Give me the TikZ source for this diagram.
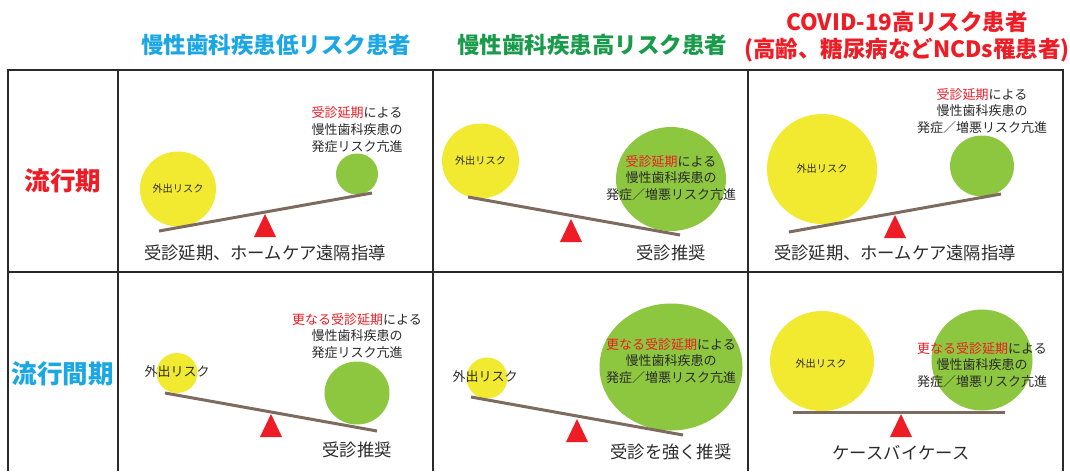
\documentclass[tikz,border=0pt]{standalone}
\usepackage{fontspec}
\newfontfamily\jp{Noto Sans CJK JP}
\usetikzlibrary{shapes.geometric}
\definecolor{rd}{HTML}{EE1C25}
\definecolor{cy}{HTML}{1AA7E4}
\definecolor{gh}{HTML}{1A9B4B}
\definecolor{yel}{HTML}{F2EA30}
\definecolor{grn}{HTML}{8DC63F}
\definecolor{bm}{HTML}{7D6B5F}
\definecolor{tx}{HTML}{2B2B2B}
\definecolor{gl}{HTML}{2A2A2A}
\tikzset{
  gridline/.style={draw=gl, line width=2pt},
  ball/.style={ellipse, inner sep=0pt, draw=none},
  yball/.style={ball, fill=yel},
  gball/.style={ball, fill=grn},
  beam/.style={draw=bm, line width=3pt},
  fulcrum/.style={fill=rd},
  hdr/.style={font=\jp\bfseries\fontsize{22.5}{26}\selectfont, inner sep=0pt},
  rowlab/.style={font=\jp\bfseries\fontsize{25.5}{30}\selectfont, inner sep=0pt},
  risk/.style={font=\jp\fontsize{10.2}{12}\selectfont, text=tx, inner sep=0pt},
  riskbig/.style={font=\jp\fontsize{13}{15}\selectfont, text=tx, inner sep=0pt},
  lab/.style={font=\jp\fontsize{13}{16.7}\selectfont, text=tx, align=center, inner sep=0pt},
  act/.style={font=\jp\fontsize{17.3}{20}\selectfont, text=tx, inner sep=0pt},
}
\begin{document}
\begin{tikzpicture}[x=1pt,y=-1pt]
\useasboundingbox[fill=white] (0,0) rectangle (1070,471);
% grid
\draw[gridline] (8,471) -- (8,70) -- (1063,70) -- (1063,471);
\draw[gridline] (8,272) -- (1063,272);
\foreach \gx in {118,433,748} \draw[gridline] (\gx,70) -- (\gx,471);
% headers
\node[hdr, text=cy] (h1) at (276,45) {慢性歯科疾患低リスク患者};
\node[hdr, text=gh] (h2) at (592,45) {慢性歯科疾患高リスク患者};
\node[hdr, text=rd] (h3a) at (907,22) {COVID-19高リスク患者};
\node[hdr, text=rd] (h3b) at (907,50) {(高齢、糖尿病などNCDs罹患者)};
% row labels
\node[rowlab, text=rd] (r1) at (63,181) {流行期};
\node[rowlab, text=cy] (r2) at (63,374) {流行間期};

% ---- cell 1,1
\node[yball, minimum width=76pt, minimum height=75pt] (y11) at (178,189) {};
\node[risk] (t11) at (y11.center) {外出リスク};
\node[gball, minimum width=42pt, minimum height=41pt] (g11) at (357,174) {};
\node[lab] (l11) at (357,129.5) {{\color{rd}受診延期}による\\慢性歯科疾患の\\発症リスク亢進};
\coordinate (b11a) at (159,231); \coordinate (b11b) at (372,193);
\draw[beam] (b11a) -- (b11b);
\coordinate (f11) at (265,214);
\fill[fulcrum] (f11) -- ++(11,23) -- ++(-22,0) -- cycle;
\node[act] (a11) at (265,253) {受診延期、ホームケア遠隔指導};

% ---- cell 1,2
\node[yball, minimum width=77pt, minimum height=75pt] (y12) at (480.5,161) {};
\node[risk] (t12) at (y12.center) {外出リスク};
\node[gball, minimum width=110pt, minimum height=104pt] (g12) at (671,179) {};
\node[lab] (l12) at (671,178) {{\color{rd}受診延期}による\\慢性歯科疾患の\\発症／増悪リスク亢進};
\coordinate (b12a) at (468,197); \coordinate (b12b) at (680,235);
\draw[beam] (b12a) -- (b12b);
\coordinate (f12) at (571,219);
\fill[fulcrum] (f12) -- ++(11,23) -- ++(-22,0) -- cycle;
\node[act] (a12) at (671,253) {受診推奨};

% ---- cell 1,3
\node[yball, minimum width=110pt, minimum height=110pt] (y13) at (822,169) {};
\node[risk] (t13) at (y13.center) {外出リスク};
\node[gball, minimum width=64pt, minimum height=61pt] (g13) at (982,166) {};
\node[lab] (l13) at (982,111) {{\color{rd}受診延期}による\\慢性歯科疾患の\\発症／増悪リスク亢進};
\coordinate (b13a) at (789,232); \coordinate (b13b) at (1001,194);
\draw[beam] (b13a) -- (b13b);
\coordinate (f13) at (895,215);
\fill[fulcrum] (f13) -- ++(11,23) -- ++(-22,0) -- cycle;
\node[act] (a13) at (895,253) {受診延期、ホームケア遠隔指導};

% ---- cell 2,1
\node[yball, minimum width=41pt, minimum height=40pt] (y21) at (177,373) {};
\node[riskbig] (t21) at (177,372) {外出リスク};
\node[gball, minimum width=65pt, minimum height=63pt] (g21) at (357,393) {};
\node[lab] (l21) at (357,336) {{\color{rd}更なる受診延期}による\\慢性歯科疾患の\\発症リスク亢進};
\coordinate (b21a) at (165,393); \coordinate (b21b) at (377,431);
\draw[beam] (b21a) -- (b21b);
\coordinate (f21) at (271,414);
\fill[fulcrum] (f21) -- ++(11,23) -- ++(-22,0) -- cycle;
\node[act] (a21) at (357,450) {受診推奨};

% ---- cell 2,2
\node[yball, minimum width=41pt, minimum height=41pt] (y22) at (487,378) {};
\node[riskbig] (t22) at (485,377) {外出リスク};
\node[gball, minimum width=143pt, minimum height=127pt] (g22) at (671,367) {};
\node[lab] (l22) at (671,361) {{\color{rd}更なる受診延期}による\\慢性歯科疾患の\\発症／増悪リスク亢進};
\coordinate (b22a) at (471,397); \coordinate (b22b) at (683,435);
\draw[beam] (b22a) -- (b22b);
\coordinate (f22) at (577,419);
\fill[fulcrum] (f22) -- ++(11,23) -- ++(-22,0) -- cycle;
\node[act] (a22) at (671,452) {受診を強く推奨};

% ---- cell 2,3
\node[yball, minimum width=104pt, minimum height=100pt] (y23) at (822,361) {};
\node[risk] (t23) at (821,364) {外出リスク};
\node[gball, minimum width=101pt, minimum height=101pt] (g23) at (982,360) {};
\node[lab] (l23) at (982,365) {{\color{rd}更なる受診延期}による\\慢性歯科疾患の\\発症／増悪リスク亢進};
\coordinate (b23a) at (793,412); \coordinate (b23b) at (1005,412);
\draw[beam] (b23a) -- (b23b);
\coordinate (f23) at (901,414);
\fill[fulcrum] (f23) -- ++(11,23) -- ++(-22,0) -- cycle;
\node[act] (a23) at (901,453) {ケースバイケース};
\end{tikzpicture}
\end{document}
